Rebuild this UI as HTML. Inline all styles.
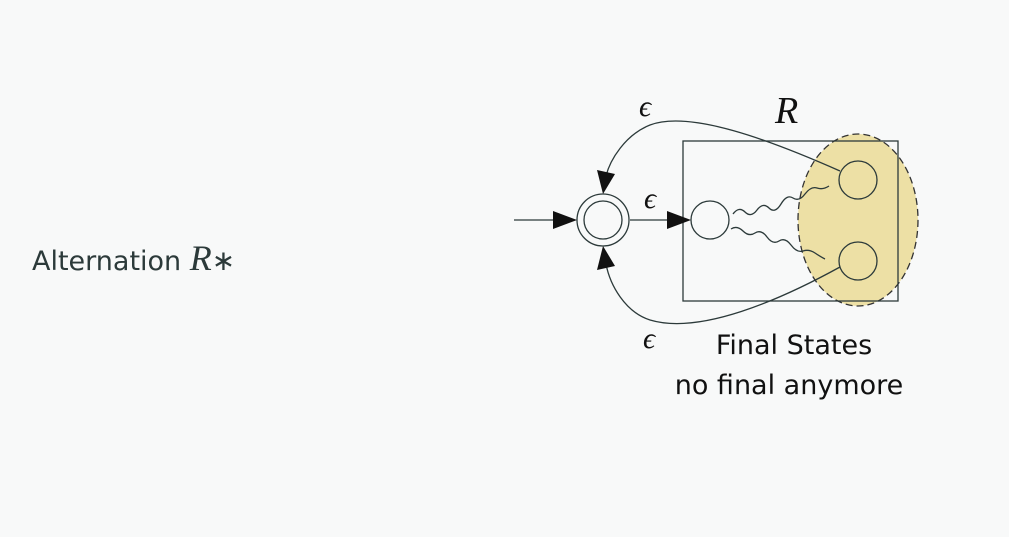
<!DOCTYPE html>
<html><head><style>
html,body{margin:0;padding:0;background:#f8f9f9;}
body{width:1009px;height:537px;overflow:hidden;position:relative;font-family:"DejaVu Sans","Liberation Sans",sans-serif;}
</style></head><body>
<svg width="1009" height="537" viewBox="0 0 1009 537" style="position:absolute;left:0;top:0">
<g stroke="#2c3a3a" stroke-width="1.3" fill="none">
<ellipse cx="858" cy="220" rx="60" ry="86" fill="#ede0a5" stroke="#333" stroke-dasharray="7,4"/>
<rect x="683" y="141" width="215" height="160"/>
<circle cx="603" cy="220" r="26"/>
<circle cx="603" cy="220" r="19"/>
<circle cx="710" cy="220" r="19"/>
<circle cx="858" cy="180" r="19"/>
<circle cx="858" cy="261" r="19"/>
<line x1="514" y1="220" x2="556" y2="220"/>
<line x1="630" y1="220" x2="672" y2="220"/>
<path d="M840,171 C770,140 690,110 650,125 C625,135 610,160 606,176"/>
<path d="M840,267 C780,300 700,335 650,320 C625,312 610,285 606,264"/>
<path d="M733,214 q6,-8 12,-2 t12,-2 t12,-2 t12,-4 t12,-6 t12,-4 t12,-6 t12,-2"/>
<path d="M731,229 q6,-4 12,2 t12,2 t12,4 t12,4 t12,4 t12,6 t12,2 t10,6"/>
</g>
<g fill="#111">
<polygon points="577,220 553,211 553,229"/>
<polygon points="691,220 667,211 667,229"/>
<polygon points="603,194 597,170 615,174"/>
<polygon points="603,246 597,270 615,266"/>
</g>
<g font-family="'Liberation Serif',serif" font-style="italic" fill="#111">
<text x="639" y="116" font-size="30">ϵ</text>
<text x="644" y="208" font-size="30">ϵ</text>
<text x="643" y="348" font-size="30">ϵ</text>
<text x="775" y="123" font-size="38">R</text>
</g>
<text x="794" y="354" font-size="27" text-anchor="middle" fill="#111">Final States</text>
<text x="789" y="394" font-size="27" text-anchor="middle" fill="#111">no final anymore</text>
<text x="32" y="270" font-size="27" fill="#2c3a3a">Alternation <tspan font-family="'Liberation Serif',serif" font-style="italic" font-size="36">R</tspan><tspan font-size="28">∗</tspan></text>
</svg>
</body></html>
